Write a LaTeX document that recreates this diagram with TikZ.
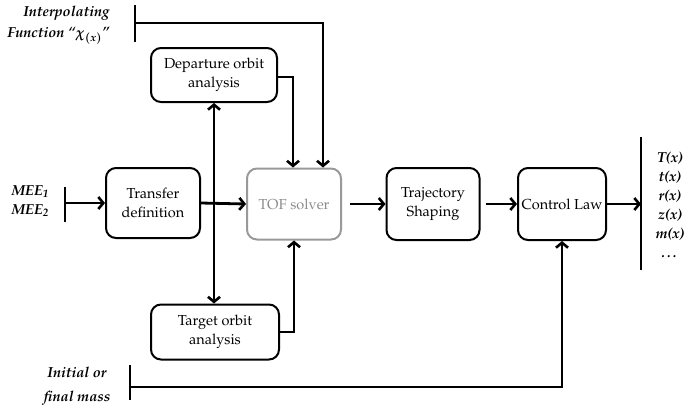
\documentclass[tikz,border=0pt]{standalone}
\usepackage[T1]{fontenc}
\usepackage{mathpazo}
\usepackage{bm}
\usetikzlibrary{arrows.meta,calc}
\begin{document}
\begin{tikzpicture}[x=1pt,y=-1pt,
  blk/.style={draw,line width=2pt,rounded corners=10pt,align=center,font=\fontsize{14.5}{18.5}\selectfont,inner sep=2pt},
  conn/.style={line width=2.8pt},
  arr/.style={conn,-{Straight Barb[length=5pt,width=12pt,line width=2.6pt]}},
  lab/.style={font=\fontsize{14.5}{21}\selectfont\bfseries\itshape}]
\useasboundingbox (0,0) rectangle (690,408);
\node[blk,minimum width=126pt,minimum height=54pt] (dep) at (214,75) {Departure orbit\\analysis};
\node[blk,minimum width=128pt,minimum height=55pt] (tgt) at (215,332) {Target orbit\\analysis};
\node[blk,minimum width=94pt,minimum height=70pt] (trans) at (153,203) {Transfer\\definition};
\node[blk,draw=black!40,text=black!45,minimum width=94pt,minimum height=71pt] (tof) at (294,204) {TOF solver};
\node[blk,minimum width=93pt,minimum height=72pt] (traj) at (433,204) {Trajectory\\Shaping};
\node[blk,minimum width=88pt,minimum height=72pt] (ctrl) at (562,204) {Control Law};
% labels
\node[lab,anchor=east,align=right] (interp) at (113,25) {Interpolating\\Function ``$\bm{\chi}_{\bm{(x)}}$''};
\node[lab,anchor=west,align=left,font=\fontsize{14.5}{19}\selectfont\bfseries\itshape] (mee) at (8,201) {MEE\textsubscript{1}\\MEE\textsubscript{2}};
\node[lab,align=center,font=\fontsize{14.5}{24}\selectfont\bfseries\itshape] (mass) at (77,386) {Initial or\\final mass};
\node[lab,align=center,font=\fontsize{14.5}{19}\selectfont\bfseries\itshape] (outs) at (670,205) {T(x)\\t(x)\\r(x)\\z(x)\\m(x)\\\ldots};
% bars
\coordinate (ib1) at (135,5); \coordinate (ib2) at (135,42); \coordinate (ibm) at (135,23);
\coordinate (mb1) at (65,187); \coordinate (mb2) at (65,222); \coordinate (mbm) at (65,203);
\coordinate (sb1) at (130,365); \coordinate (sb2) at (130,400); \coordinate (sbm) at (130,387);
\coordinate (ob1) at (641,137); \coordinate (ob2) at (641,270);
\draw[conn] (ib1) -- (ib2);
\draw[conn] (mb1) -- (mb2);
\draw[conn] (sb1) -- (sb2);
\draw[conn] (ob1) -- (ob2);
% connectors
\draw[arr] (mbm) -- (trans.west);
\draw[arr] (trans.east) -- (tof.west);
\draw[conn,{Straight Barb[length=5pt,width=12pt,line width=2.6pt]}-{Straight Barb[length=5pt,width=12pt,line width=2.6pt]}] (dep.south) -- (dep.south |- tgt.north);
\draw[arr] ($(dep.east)+(0,2)$) -| ($(tof.north)+(-1,0)$);
\draw[arr] (ibm) -| ($(tof.north)+(29,0)$);
\draw[arr] (tgt.east) -| (tof.south);
\draw[arr,shorten <=8pt] (tof.east) -- (traj.west);
\draw[arr,shorten <=5pt] (traj.east) -- (ctrl.west);
\draw[arr] (ctrl.east) -- (ctrl.east -| ob1);
\draw[arr] (sbm) -| (ctrl.south);
\end{tikzpicture}
\end{document}
